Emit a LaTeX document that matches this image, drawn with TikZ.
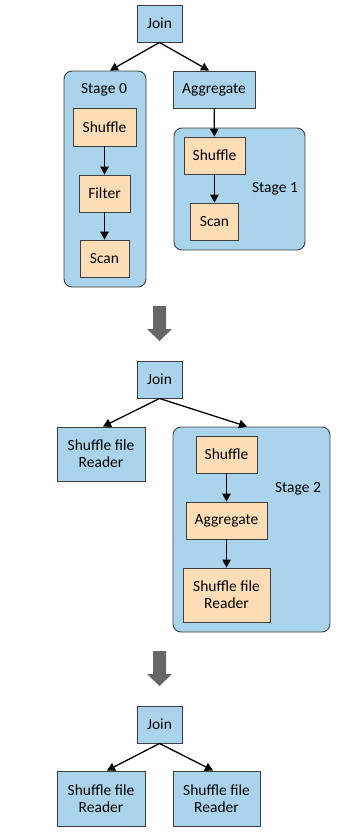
\documentclass[tikz,border=0pt]{standalone}
\usepackage{fontspec}
\setmainfont{Carlito}
\usetikzlibrary{arrows.meta}

\definecolor{opblue}{HTML}{A9D4EC}
\definecolor{oporange}{HTML}{FDDDB6}
\definecolor{edge}{HTML}{3F3F3F}
\definecolor{bigarrow}{HTML}{666666}

\begin{document}
\begin{tikzpicture} [x=1pt, y=-1pt, font=\fontsize{15.5}{17}\selectfont,
  bluebox/.style = {draw=edge, fill=opblue, line width=0.9pt, inner sep=0pt, align=center},
  orangebox/.style = {draw=edge, fill=oporange, line width=0.9pt, inner sep=0pt, align=center},
  stagebox/.style = {draw=edge, fill=opblue, line width=0.9pt, rounded corners=8pt, inner sep=0pt},
  flow/.style = {-{Triangle[length=8pt,width=8.5pt]}, line width=1.3pt, black}]
\useasboundingbox (0,0) rectangle (361,838);

% first plan
\node[bluebox, minimum width=45pt, minimum height=37pt] (j1) at (159.5,23.5) {Join};
\node[stagebox, minimum width=82pt, minimum height=216pt] (st0) at (105,179) {};
\node (l0) at (104,90) {Stage 0};
\node[orangebox, minimum width=63pt, minimum height=38pt] (sh0) at (104.5,127) {Shuffle};
\node[orangebox, minimum width=51pt, minimum height=37pt] (fi0) at (104.5,193.5) {Filter};
\node[orangebox, minimum width=49pt, minimum height=37pt] (sc0) at (104.5,258.5) {Scan};
\node[bluebox, minimum width=82pt, minimum height=37pt] (ag1) at (214,89.5) {Aggregate};
\node[stagebox, minimum width=131pt, minimum height=122pt] (st1) at (239.5,189) {};
\node (l1) at (275,189) {Stage 1};
\node[orangebox, minimum width=61pt, minimum height=37pt] (sh1) at (214.5,155.5) {Shuffle};
\node[orangebox, minimum width=48pt, minimum height=37pt] (sc1) at (214.5,221.5) {Scan};
\draw[flow] (j1.south) -- ([xshift=5pt]st0.north);
\draw[flow] (j1.south) -- ([xshift=-5pt]ag1.north);
\draw[flow] (sh0) -- (fi0);
\draw[flow] (fi0) -- (sc0);
\draw[flow] (ag1) -- (sh1);
\draw[flow] (sh1) -- (sc1);

% step down
\fill[bigarrow] (153,306) -- (166,306) -- (166,329) -- (172,329) -- (159.5,341)
  -- (147,329) -- (153,329) -- cycle;

% second plan
\node[bluebox, minimum width=45pt, minimum height=37pt] (j2) at (159.5,379.5) {Join};
\node[bluebox, minimum width=88pt, minimum height=54pt] (rd2) at (101,454) {Shuffle file\\Reader};
\node[stagebox, minimum width=157pt, minimum height=205pt] (st2) at (251.5,529.5) {};
\node (l2) at (298,489) {Stage 2};
\node[orangebox, minimum width=61pt, minimum height=37pt] (sh2) at (226.5,454.5) {Shuffle};
\node[orangebox, minimum width=81pt, minimum height=37pt] (ag2) at (226.5,520.5) {Aggregate};
\node[orangebox, minimum width=87pt, minimum height=54pt] (rd2s) at (226.5,595) {Shuffle file\\Reader};
\draw[flow] (j2.south) -- ([xshift=2pt]rd2.north);
\draw[flow] (j2.south) -- ([xshift=-4.5pt]st2.north);
\draw[flow] (sh2) -- (ag2);
\draw[flow] (ag2) -- (rd2s);

% step down
\fill[bigarrow] (153,651) -- (166,651) -- (166,674) -- (172,674) -- (159.5,686)
  -- (147,674) -- (153,674) -- cycle;

% third plan
\node[bluebox, minimum width=45pt, minimum height=37pt] (j3) at (159.5,724.5) {Join};
\node[bluebox, minimum width=88pt, minimum height=55pt] (rd3a) at (101,798.5) {Shuffle file\\Reader};
\node[bluebox, minimum width=87pt, minimum height=55pt] (rd3b) at (216.5,798.5) {Shuffle file\\Reader};
\draw[flow] (j3.south) -- ([xshift=6pt]rd3a.north);
\draw[flow] (j3.south) -- ([xshift=-3.5pt]rd3b.north);
\end{tikzpicture}
\end{document}
